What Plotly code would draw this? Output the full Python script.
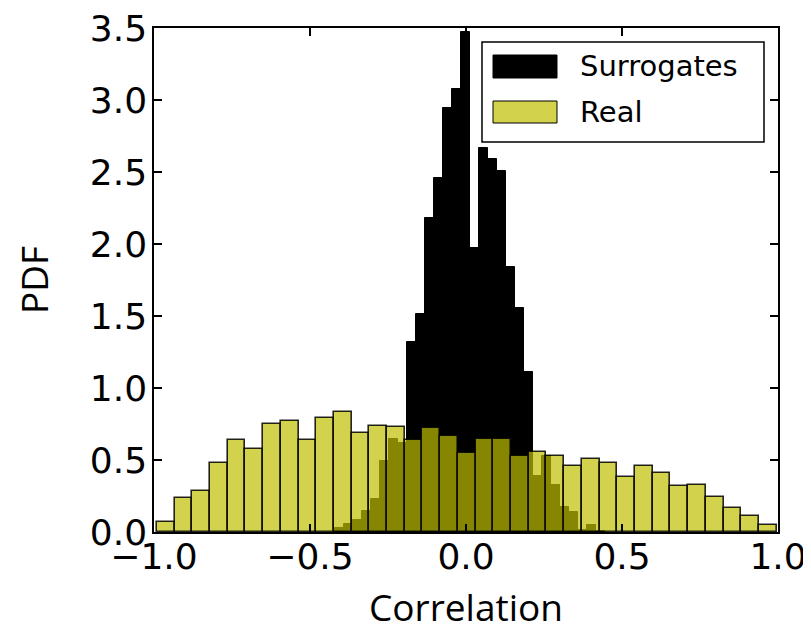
import plotly.graph_objects as go

# ---- data ----
real_start = -0.991
real_width = 0.05677
real_pdf = [0.067, 0.234, 0.285, 0.48, 0.64, 0.576, 0.752, 0.771, 0.64, 0.79,
            0.835, 0.688, 0.738, 0.727, 0.639, 0.72, 0.667, 0.549, 0.644, 0.644,
            0.528, 0.556, 0.53, 0.458, 0.51, 0.477, 0.382, 0.456, 0.412, 0.317,
            0.326, 0.241, 0.167, 0.111, 0.046]

sur_start = -0.42
sur_width = 0.02885
sur_pdf = [0.026, 0.053, 0.083, 0.148, 0.227, 0.495, 0.646, 0.616, 1.317, 1.514,
           2.178, 2.456, 2.942, 3.074, 3.474, 1.974, 2.665, 2.588, 2.507, 1.843,
           1.553, 1.113, 0.39, 0.525, 0.323, 0.173, 0.141, 0.015, 0.049, 0.01]

x_ticks = [-1.0, -0.5, 0.0, 0.5, 1.0]
y_ticks = [0.0, 0.5, 1.0, 1.5, 2.0, 2.5, 3.0, 3.5]

real_x = [real_start + real_width * (i + 0.5) for i in range(len(real_pdf))]
sur_x = [sur_start + sur_width * (i + 0.5) for i in range(len(sur_pdf))]

YELLOW = "rgba(191,191,0,0.7)"
YELLOW_SOLID = "rgb(210,210,77)"

fig = go.Figure()
fig.add_trace(go.Bar(x=sur_x, y=sur_pdf, width=sur_width, name="Surrogates",
                     marker=dict(color="black", line=dict(color="black", width=1))))
fig.add_trace(go.Bar(x=real_x, y=real_pdf, width=real_width, name="Real",
                     marker=dict(color=YELLOW, line=dict(color="rgba(0,0,0,0.85)", width=1.6))))

# the page places the figure 8 px in from the top-left corner
OFF = 8
W, H = 811 - OFF, 632 - OFF
L, R, T, B = 154 - OFF, 33, 28 - OFF, 100
pw, ph = W - L - R, H - T - B


def px(x):
    return (x - OFF - L) / pw


def py(y):
    return (H - B - (y - OFF)) / ph


fig.update_layout(
    width=W, height=H,
    margin=dict(l=L, r=R, t=T, b=B, autoexpand=False),
    plot_bgcolor="white", paper_bgcolor="white",
    barmode="overlay", bargap=0, showlegend=False,
    font=dict(family="DejaVu Sans", size=36, color="black"),
)
fig.update_xaxes(range=[-1, 1], tickvals=x_ticks, tickformat=".1f", automargin=False,
                 ticklabeloverflow="allow",
                 ticks="inside", ticklen=8, tickwidth=1.5, tickcolor="black",
                 showline=True, linecolor="black", linewidth=1.5, mirror="ticks",
                 showgrid=False, zeroline=False, ticklabelstandoff=-8,
                 title=dict(text="Correlation", font=dict(family="Open Sans", size=37), standoff=40))
fig.update_yaxes(range=[0, 3.5], tickvals=y_ticks, tickformat=".1f", automargin=False,
                 ticklabeloverflow="allow",
                 ticks="inside", ticklen=8, tickwidth=1.5, tickcolor="black",
                 showline=True, linecolor="black", linewidth=1.5, mirror="ticks",
                 showgrid=False, zeroline=False, ticklabelstandoff=-2,
                 title=dict(text="PDF", font=dict(family="Open Sans", size=37), standoff=40))

# legend drawn by hand to match the reference's large patches
shapes = [
    dict(type="rect", xref="paper", yref="paper", x0=px(482), x1=px(764), y0=py(142), y1=py(42),
         line=dict(color="black", width=1.5), fillcolor="white", layer="above"),
    dict(type="rect", xref="paper", yref="paper", x0=px(493), x1=px(557), y0=py(78), y1=py(55),
         line=dict(color="black", width=1), fillcolor="black", layer="above"),
    dict(type="rect", xref="paper", yref="paper", x0=px(493), x1=px(557), y0=py(123), y1=py(101),
         line=dict(color="black", width=1), fillcolor=YELLOW_SOLID, layer="above"),
]
fig.update_layout(shapes=shapes)
fig.add_annotation(xref="paper", yref="paper", x=px(578), y=py(66.5), text="Surrogates",
                   showarrow=False, xanchor="left", yanchor="middle",
                   font=dict(family="DejaVu Sans", size=29, color="black"))
fig.add_annotation(xref="paper", yref="paper", x=px(578), y=py(112), text="Real",
                   showarrow=False, xanchor="left", yanchor="middle",
                   font=dict(family="DejaVu Sans", size=29, color="black"))

fig.write_html("out.html")
